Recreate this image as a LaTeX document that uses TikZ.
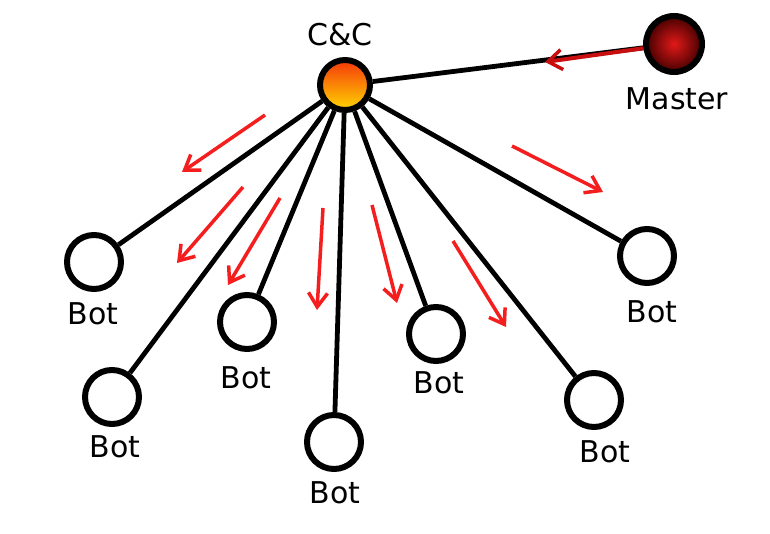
\documentclass[tikz,border=0pt]{standalone}
\usepackage{fontspec}
\setmainfont{DejaVu Sans}
\usetikzlibrary{arrows.meta}
\definecolor{redarrow}{RGB}{245,30,30}
\definecolor{darkarrow}{RGB}{200,15,15}
\begin{document}
\begin{tikzpicture}[x=1pt,y=-1pt,
  botnode/.style={circle,draw=black,line width=6pt,fill=white,minimum size=54pt,inner sep=0pt},
  ccnode/.style={circle,draw=black,line width=6pt,minimum size=50pt,inner sep=0pt,
     top color={rgb,255:red,245;green,55;blue,10},bottom color={rgb,255:red,255;green,215;blue,0}},
  masternode/.style={circle,draw=black,line width=6pt,minimum size=56pt,inner sep=0pt,
     inner color={rgb,255:red,225;green,25;blue,25},outer color={rgb,255:red,70;green,0;blue,0}},
  lbl/.style={inner sep=0pt,font=\fontsize{30}{35}\selectfont},
  link/.style={line width=4.8pt,black},
  flow/.style={line width=3.5pt,redarrow,-{Straight Barb[length=14pt,width=19pt,line width=3.5pt]}},
  mflow/.style={line width=4pt,darkarrow,-{Straight Barb[length=14pt,width=20pt,line width=3.5pt]}}
]
\useasboundingbox (0,0) rectangle (770,534);
\fill[white] (0,0) rectangle (770,534);

% nodes
\node[ccnode] (cc) at (345,85) {};
\node[masternode] (master) at (674,44) {};
\node[botnode] (b1) at (94,262) {};
\node[botnode] (b2) at (112,397) {};
\node[botnode] (b3) at (247,322) {};
\node[botnode] (b4) at (334,442) {};
\node[botnode] (b5) at (436,334) {};
\node[botnode] (b6) at (594,400) {};
\node[botnode] (b7) at (647,256) {};

% labels
\node[lbl] (lcc) at (340,35) {C\&C};
\node[lbl] (lmaster) at (677,99) {Master};
\node[lbl] (l1) at (93,314) {Bot};
\node[lbl] (l2) at (115,447) {Bot};
\node[lbl] (l3) at (246,378) {Bot};
\node[lbl] (l4) at (335,493) {Bot};
\node[lbl] (l5) at (439,383) {Bot};
\node[lbl] (l6) at (605,452) {Bot};
\node[lbl] (l7) at (652,312) {Bot};

% links
\foreach \b in {b1,b2,b3,b4,b5,b6,b7}{
  \draw[link] (cc) -- (\b);
}
\draw[link] (cc) -- (master);

% red arrows
\coordinate (mtip) at (545,62);
\draw[mflow] (master) -- (mtip);

\coordinate (a1s) at (265,115); \coordinate (a1e) at (182,172);
\coordinate (a2s) at (243,187); \coordinate (a2e) at (177,263);
\coordinate (a3s) at (280,198); \coordinate (a3e) at (228,285);
\coordinate (a4s) at (323,208); \coordinate (a4e) at (317,310);
\coordinate (a5s) at (372,205); \coordinate (a5e) at (397,303);
\coordinate (a6s) at (453,241); \coordinate (a6e) at (506,327);
\coordinate (a7s) at (512,146); \coordinate (a7e) at (603,192);
\foreach \i in {1,...,7}{
  \draw[flow] (a\i s) -- (a\i e);
}
\end{tikzpicture}
\end{document}
